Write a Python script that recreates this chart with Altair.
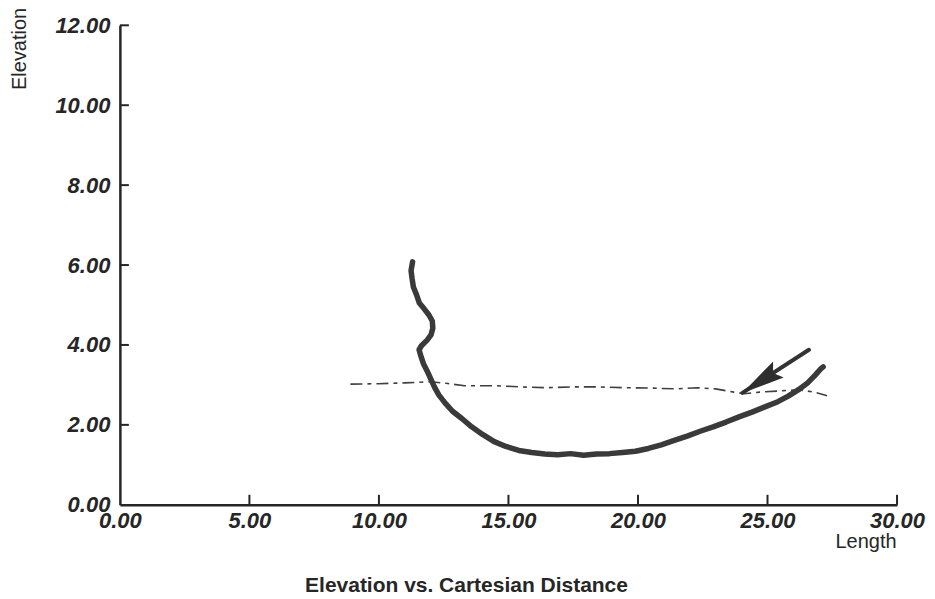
import altair as alt
import pandas as pd

# ---- data ----
curve_x = [11.30, 11.24, 11.28, 11.33, 11.45, 11.56, 11.74, 11.93, 12.06, 12.08, 12.01, 11.86,
           11.64, 11.55, 11.63, 11.72, 11.86, 12.00, 12.14, 12.31, 12.55, 12.84, 13.20, 13.58,
           14.00, 14.45, 14.90, 15.40, 15.90, 16.40, 16.90, 17.40, 17.90, 18.40, 18.90, 19.40,
           19.90, 20.40, 20.90, 21.40, 21.90, 22.40, 22.90, 23.40, 23.90, 24.40, 24.90, 25.40,
           25.80, 26.20, 26.55, 26.85, 27.05, 27.15]
curve_y = [6.08, 5.86, 5.66, 5.45, 5.26, 5.05, 4.91, 4.75, 4.60, 4.42, 4.25, 4.12,
           3.98, 3.88, 3.70, 3.53, 3.35, 3.15, 2.95, 2.75, 2.55, 2.34, 2.16, 1.95,
           1.76, 1.58, 1.46, 1.36, 1.31, 1.27, 1.25, 1.28, 1.24, 1.27, 1.28, 1.31,
           1.34, 1.41, 1.50, 1.61, 1.72, 1.84, 1.95, 2.07, 2.20, 2.32, 2.45, 2.58,
           2.72, 2.88, 3.05, 3.25, 3.40, 3.45]

dash_x = [8.9, 10.0, 11.0, 12.0, 12.6, 13.3, 14.5, 15.5, 16.5, 17.5, 18.5, 19.5,
          20.5, 21.5, 22.3, 23.0, 23.7, 24.1, 24.7, 25.5, 26.2, 26.8, 27.3]
dash_y = [3.02, 3.03, 3.05, 3.08, 3.04, 2.98, 2.98, 2.95, 2.93, 2.95, 2.95, 2.93,
          2.92, 2.90, 2.93, 2.90, 2.82, 2.78, 2.82, 2.85, 2.88, 2.82, 2.73]

arrow_tail = (26.6, 3.88)
arrow_tip = (24.03, 2.80)

x_ticks = [0, 5, 10, 15, 20, 25, 30]
y_ticks = [0, 2, 4, 6, 8, 10, 12]

# ---- tables ----
curve_df = pd.DataFrame({"i": range(len(curve_x)), "x": curve_x, "y": curve_y})
dash_df = pd.DataFrame({"i": range(len(dash_x)), "x": dash_x, "y": dash_y})
arrow_df = pd.DataFrame({"x": [arrow_tail[0]], "y": [arrow_tail[1]],
                         "x2": [arrow_tip[0]], "y2": [arrow_tip[1]]})
tip_df = pd.DataFrame({"x": [arrow_tip[0]], "y": [arrow_tip[1]]})
xt_df = pd.DataFrame({"v": [v for v in x_ticks if v != 0]})
yt_df = pd.DataFrame({"v": [v for v in y_ticks if v != 0]})

INK = "#262626"
FONT = "Liberation Sans"

xscale = alt.Scale(domain=[0, 30], nice=False, zero=True)
yscale = alt.Scale(domain=[0, 12], nice=False, zero=True)

xaxis = alt.Axis(values=x_ticks, format=".2f", title="Length", grid=False,
                 ticks=False, tickSize=0, labelPadding=6, labelFontSize=22,
                 labelFont=FONT, labelFontWeight="bold", labelFontStyle="italic",
                 labelColor=INK, domainColor=INK, domainWidth=2.5,
                 titleFont=FONT, titleFontSize=20, titleFontWeight="normal",
                 titleColor=INK, titleAlign="right", titleBaseline="alphabetic",
                 titleAnchor="end", titleX=777, titleY=43, labelFlush=False)
yaxis = alt.Axis(values=y_ticks, format=".2f", title="Elevation", grid=False,
                 ticks=False, tickSize=0, labelPadding=10, labelFontSize=22,
                 labelFont=FONT, labelFontWeight="bold", labelFontStyle="italic",
                 labelColor=INK, domainColor=INK, domainWidth=2.5,
                 titleFont=FONT, titleFontSize=20, titleFontWeight="normal",
                 titleColor=INK, titleAngle=-90, titleAlign="right",
                 titleBaseline="middle", titleX=-100, titleY=-18, labelFlush=False)

base_axes = alt.Chart(curve_df).mark_point(opacity=0).encode(
    x=alt.X("x:Q", scale=xscale, axis=xaxis),
    y=alt.Y("y:Q", scale=yscale, axis=yaxis),
)

ytick_marks = alt.Chart(yt_df).mark_rule(color=INK, strokeWidth=2).encode(
    y=alt.Y("v:Q", scale=yscale), x=alt.value(0), x2=alt.value(9))
xtick_marks = alt.Chart(xt_df).mark_rule(color=INK, strokeWidth=2).encode(
    x=alt.X("v:Q", scale=xscale), y=alt.value(480), y2=alt.value(470))

dashed = alt.Chart(dash_df).mark_line(color="#3f3f3f", strokeWidth=1.6,
                                      strokeDash=[12, 5, 4, 5]).encode(
    x=alt.X("x:Q", scale=xscale), y=alt.Y("y:Q", scale=yscale), order="i:Q")

curve = alt.Chart(curve_df).mark_line(color="#3a3a3a", strokeWidth=5.5,
                                      strokeCap="round", strokeJoin="round").encode(
    x=alt.X("x:Q", scale=xscale), y=alt.Y("y:Q", scale=yscale), order="i:Q")

shaft = alt.Chart(arrow_df).mark_rule(color="#333333", strokeWidth=4,
                                      strokeCap="round").encode(
    x=alt.X("x:Q", scale=xscale), y=alt.Y("y:Q", scale=yscale),
    x2="x2:Q", y2="y2:Q")

head = alt.Chart(tip_df).mark_point(shape="M0,0L0.45,2L0,1.7L-0.45,2Z", size=1850,
                                    filled=True, color="#2e2e2e", opacity=1,
                                    angle=237).encode(
    x=alt.X("x:Q", scale=xscale), y=alt.Y("y:Q", scale=yscale))

chart = alt.layer(base_axes, ytick_marks, xtick_marks, dashed, curve, shaft, head).properties(
    width=778, height=480,
    title=alt.TitleParams("Elevation vs. Cartesian Distance", orient="bottom",
                          anchor="middle", fontSize=21, fontWeight="bold",
                          font=FONT, color=INK, dx=-42, offset=23),
    autosize=alt.AutoSizeParams(type="none"),
    padding={"left": 112, "top": 17, "right": 30, "bottom": 92},
    background="#ffffff",
).configure_view(stroke=None)

chart.save("out.html", embed_options={"renderer": "svg", "actions": False})
